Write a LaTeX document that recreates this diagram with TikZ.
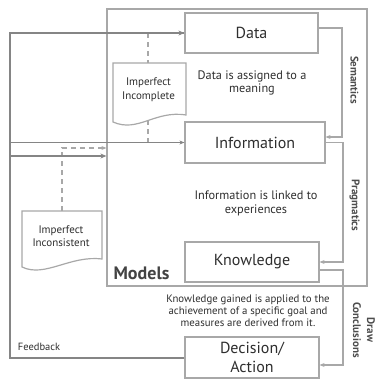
\documentclass[tikz,border=0pt]{standalone}
\usepackage{fontspec}
\setmainfont{PT Sans}
\usetikzlibrary{arrows.meta,calc}
\definecolor{txt}{HTML}{2E2E2E}
\definecolor{boxline}{HTML}{A8A8A8}
\definecolor{fbline}{HTML}{858585}
\begin{document}
\begin{tikzpicture}[x=1pt,y=-1pt,
  frame/.style={draw=boxline, line width=1.2pt, minimum width=260pt, minimum height=277pt, inner sep=0pt},
  box/.style={draw=boxline, line width=1.2pt, fill=white, minimum height=40pt, inner sep=0pt, text=txt, font=\fontsize{16}{18.5}\selectfont, align=center},
  note/.style={align=center, text=txt, font=\fontsize{12.3}{13.5}\selectfont},
  lbl/.style={align=center, text=txt!85, rotate=-90, font=\bfseries\fontsize{11}{14}\selectfont},
  conn/.style={draw=boxline, line width=1.2pt, -{Stealth[length=5pt,width=4pt]}},
  fb/.style={draw=fbline, line width=2pt},
  fbarrow/.style={fb, -{Stealth[length=6pt,width=5pt]}},
  fbthin/.style={draw=fbline, line width=1.2pt, -{Stealth[length=5pt,width=4pt]}},
  dashln/.style={draw=boxline, line width=1.2pt, dash pattern=on 5pt off 4pt},
  doc/.style={draw=boxline, line width=1.2pt, fill=white},
  doctext/.style={align=center, text=txt, font=\fontsize{11}{13.5}\selectfont}
]
\useasboundingbox (0,0) rectangle (383,392);

% frame
\node[frame] (models) at (237,147.5) {};
\node[text=txt!90, font=\bfseries\fontsize{18}{20}\selectfont] (modelslbl) at (141.5,273) {Models};

% boxes
\node[box, minimum width=133pt] (data) at (251.5,33) {Data};
\node[box, minimum width=140pt, minimum height=41pt] (info) at (255,142.5) {Information};
\node[box, minimum width=134pt] (know) at (252,262) {Knowledge};
\node[box, minimum width=134pt, minimum height=41pt] (dec) at (252,357.5) {Decision/\\Action};

% notes
\node[note] (n1) at (252,83) {Data is assigned to a\\meaning};
\node[note] (n2) at (256,203.5) {Information is linked to\\experiences};
\node[note, font=\fontsize{10.8}{12}\selectfont] (n3) at (248,311) {Knowledge gained is applied to the\\achievement of a specific goal and\\measures are derived from it.};

% right connectors
\coordinate (s1) at (342,28);
\coordinate (s2) at (342,137);
\draw[conn] (data.east |- s1) -- (s1) -- (s2) -- (info.east |- s2);
\coordinate (p1) at (343,142.5);
\coordinate (p2) at (343,262);
\draw[conn] (info.east) -- (p1) -- (p2) -- (know.east);
\coordinate (d1) at (343,270);
\coordinate (d2) at (343,365);
\draw[conn] (know.east |- d1) -- (d1) -- (d2) -- (dec.east |- d2);

\node[lbl] (sem) at (354.5,80) {Semantics};
\node[lbl] (prag) at (354.5,205.5) {Pragmatics};
\node[lbl] (drawc) at (364,330) {Draw\\Conclusions};

% dashed
\coordinate (c1) at (148,33);
\coordinate (c2) at (148,63);
\coordinate (c3) at (148,120);
\draw[dashln] (c1) -- (c2);
\draw[dashln] (c3) -- (c3 |- info.west);
\coordinate (e1) at (62,211);
\coordinate (e2) at (62,148);
\draw[dashln, -{Stealth[length=5pt,width=4pt]}] (e1) -- (e2) -- (models.west |- e2);

% documents
\draw[doc] (113,63) -- (186,63) -- (186,115) .. controls (155,110) and (138,133) .. (113,122) -- cycle;
\node[doctext] (incomplete) at (148.5,89.5) {Imperfect\\Incomplete};
\draw[doc] (22,211) -- (102,211) -- (102,259) .. controls (70,255) and (45,278) .. (22,267) -- cycle;
\node[doctext] (inconsistent) at (61,236) {Imperfect\\Inconsistent};

% feedback
\coordinate (f1) at (10,357.5);
\coordinate (f2) at (10,33);
\coordinate (f3) at (10,142.5);
\coordinate (f4) at (10,156);
\draw[fb] (dec.west) -- (f1) -- (f2) -- (data.west);
\draw[fbarrow] (f2) -- (data.west);
\draw[fbthin] (f3) -- (info.west);
\draw[fbarrow] (f4) -- (models.west |- f4);
\node[text=txt, font=\fontsize{10.5}{12}\selectfont] (fblbl) at (39,347) {Feedback};
\end{tikzpicture}
\end{document}
